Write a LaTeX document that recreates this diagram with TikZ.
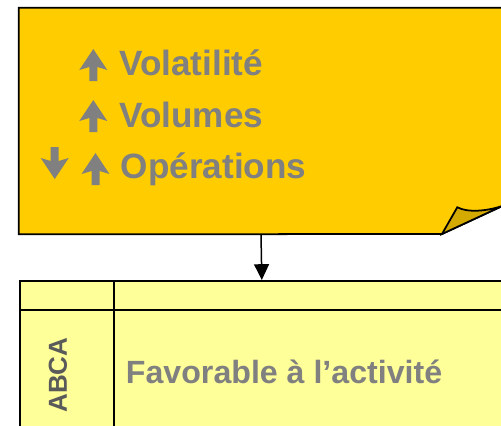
\documentclass[tikz,border=0pt]{standalone}
\usepackage{fontspec}
\setmainfont{Liberation Sans}
\usetikzlibrary{arrows.meta}
\definecolor{noteyellow}{HTML}{FFCC00}
\definecolor{foldyellow}{HTML}{D4A900}
\definecolor{paleyellow}{HTML}{FFFF99}
\definecolor{textgray}{HTML}{808080}
\definecolor{labelgray}{HTML}{5A5A5A}
\tikzset{
  flecheup/.pic={\fill[textgray] (0,0) -- (14,21) -- (4,18) -- (4,32) -- (-4,32) -- (-4,18) -- (-14,21) -- cycle;},
  flechedown/.pic={\fill[textgray] (0,0) -- (14,-21) -- (4,-18) -- (4,-32) -- (-4,-32) -- (-4,-18) -- (-14,-21) -- cycle;}
}
\begin{document}
\begin{tikzpicture}[x=0.02cm, y=-0.02cm, every node/.style={inner sep=0pt, text=textgray}]
  \tikzstyle{notebox}=[draw=none,minimum width=9.68cm,minimum height=4.52cm]
  \tikzstyle{gridbox}=[draw,line width=1pt,fill=paleyellow,minimum width=9.68cm,minimum height=4cm,anchor=north west]
  \tikzstyle{bigtext}=[anchor=base west,font=\bfseries\fontsize{20}{23}\selectfont]
  \useasboundingbox (0,0) rectangle (501,426);
  \clip (0,0) rectangle (501,426);
  \node[notebox] (note) at (261,121) {};
  \draw[line width=1pt,fill=noteyellow] (note.north west) -- (note.north east) -- (503,205.7) -- (442,234) -- (note.south west) -- cycle;
  \draw[line width=1pt,fill=foldyellow] (442,234) -- (457.3,207.3) .. controls (468,213) and (488,211) .. (503,205.7) -- cycle;
  \pic at (93.3,49) {flecheup};
  \pic at (93.3,100) {flecheup};
  \pic at (95.5,153) {flecheup};
  \pic at (54.7,179) {flechedown};
  \node[bigtext] (vol) at (119,75) {Volatilité};
  \node[bigtext] (volu) at (119,127.5) {Volumes};
  \node[bigtext] (ops) at (120.4,178.7) {Opérations};
  \node[gridbox] (grid) at (19,280) {};
  \draw[line width=1pt] (19,310) -- (503,310);
  \draw[line width=1pt] (114,280) -- (114,480);
  \draw[line width=0.85pt,-{Triangle[width=8.5pt,length=9pt]}] (note.south) -- (grid.north);
  \node[rotate=90,text=labelgray,font=\bfseries\fontsize{14.8}{17}\selectfont] (abca) at (58,375) {ABCA};
  \node[anchor=base west,font=\bfseries\fontsize{18.3}{21}\selectfont] (fav) at (125.6,383) {Favorable à l’activité};
\end{tikzpicture}
\end{document}
